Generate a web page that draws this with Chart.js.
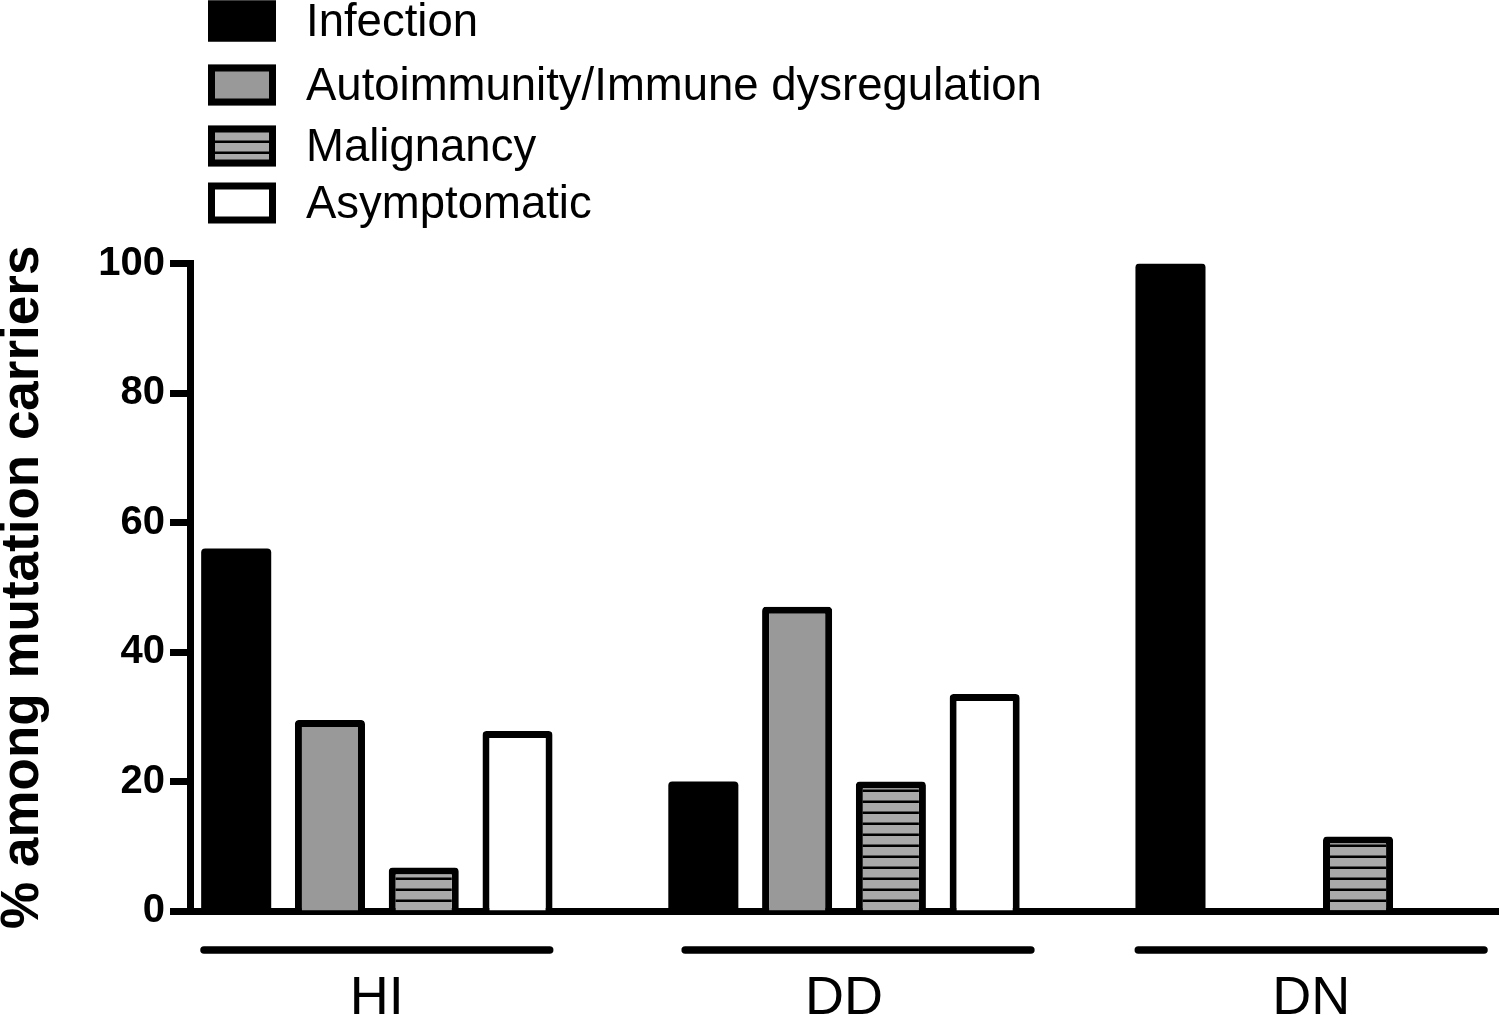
<!DOCTYPE html>
<html>
<head>
<meta charset="utf-8">
<title>Mutation carriers</title>
<script src="https://cdn.jsdelivr.net/npm/chart.js@4/dist/chart.umd.min.js"></script>
<style>
  html,body{margin:0;padding:0;background:#fff;}
  #wrap{width:1500px;height:1015px;}
</style>
</head>
<body>
<div id="wrap"><canvas id="chart" width="1500" height="1015"></canvas></div>
<script>
// Data
const groups=["HI","DD","DN"];
const seriesNames=["Infection","Autoimmunity/Immune dysregulation","Malignancy","Asymptomatic"];
const infection=[56,20,100];
const autoimmunity=[29.5,47,0];
const malignancy=[6.7,20,11.5];
const asymptomatic=[27.8,33.5,0];
const yTicks=[0,20,40,60,80,100];

const FONT="'Liberation Sans', Arial, sans-serif";

// striped fill for malignancy
function stripes(){
  const c=document.createElement("canvas");
  c.width=12;c.height=11;
  const g=c.getContext("2d");
  g.fillStyle="#a9a9a9";g.fillRect(0,0,12,11);
  g.fillStyle="#000";g.fillRect(0,8.5,12,2.5);
  return g.createPattern(c,"repeat");
}

const fills=["#000","#999999",stripes(),"#fff"];
const values=[infection,autoimmunity,malignancy,asymptomatic];

const datasets=seriesNames.map((name,i)=>({
  label:name,
  data:values[i].map((v,j)=>({x:j,y:v})),
  backgroundColor:fills[i],
  borderColor:"#000",
  borderWidth:i===0?0:7,
  borderRadius:4,
  borderSkipped:"start",
  categoryPercentage:0.803,
  barPercentage:0.747
}));

// legend drawn top-left, one row per series
const legendPlugin={
  id:"sideLegend",
  afterDraw(chart){
    const ctx=chart.ctx;
    const rows=[21,85,146,203];
    ctx.save();
    chart.data.datasets.forEach((ds,i)=>{
      const y=rows[i];
      ctx.fillStyle=ds.backgroundColor;
      ctx.fillRect(208,y-20.5,68,41);
      ctx.strokeStyle="#000";ctx.lineWidth=7;
      ctx.strokeRect(211.5,y-17,61,34);
      ctx.fillStyle="#000";
      ctx.font="45.5px "+FONT;
      ctx.textBaseline="middle";ctx.textAlign="left";
      ctx.fillText(ds.label,306,y+2);
    });
    ctx.restore();
  }
};

// group bars under x axis (DD line sits a bit to the right in the original)
const lineShift=[0,0.03,0];
const groupLines={
  id:"groupLines",
  afterDraw(chart){
    const xs=chart.scales.x,ctx=chart.ctx;
    ctx.save();
    ctx.strokeStyle="#000";ctx.lineWidth=7.5;ctx.lineCap="round";
    groups.forEach((g,i)=>{
      ctx.beginPath();
      ctx.moveTo(xs.getPixelForValue(i+lineShift[i]-0.37),950);
      ctx.lineTo(xs.getPixelForValue(i+lineShift[i]+0.37),950);
      ctx.stroke();
    });
    ctx.restore();
  }
};

new Chart(document.getElementById("chart"),{
  type:"bar",
  data:{datasets},
  options:{
    responsive:false,
    animation:false,
    layout:{padding:{top:263.5,right:2,left:0,bottom:0}},
    plugins:{legend:{display:false},tooltip:{enabled:false}},
    scales:{
      x:{
        type:"linear",
        offset:false,
        min:-0.4,max:2.4,
        afterBuildTicks:s=>{s.ticks=groups.map((g,i)=>({value:i}));},
        afterFit:s=>{s.height=104;},
        grid:{display:true,drawOnChartArea:false,drawTicks:false,offset:false},
        border:{color:"#000",width:7},
        ticks:{
          callback:v=>groups[v],
          color:"#000",
          font:{family:FONT,size:54},
          padding:56,
          maxRotation:0,autoSkip:false
        }
      },
      y:{
        min:0,max:100,
        afterBuildTicks:s=>{s.ticks=yTicks.map(v=>({value:v}));},
        afterFit:s=>{s.width=190;},
        grid:{drawOnChartArea:false,drawTicks:true,tickLength:20,tickWidth:7,tickColor:"#000"},
        border:{color:"#000",width:7},
        ticks:{color:"#000",font:{family:FONT,size:40,weight:"bold"},padding:5},
        title:{
          display:true,
          text:"% among mutation carriers",
          color:"#000",
          font:{family:FONT,size:53,weight:"bold",lineHeight:0.88},
          padding:0
        }
      }
    }
  },
  plugins:[legendPlugin,groupLines]
});
</script>
</body>
</html>
